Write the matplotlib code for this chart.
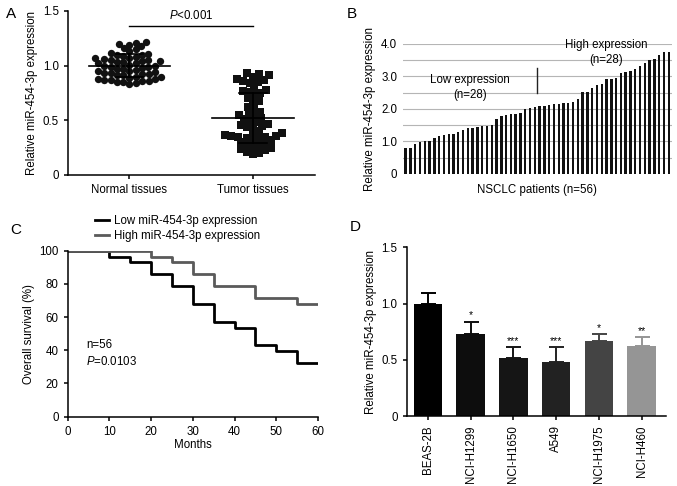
import numpy as np
import matplotlib.pyplot as plt

plt.rcParams['font.family'] = ['Liberation Sans', 'DejaVu Sans']
plt.rcParams['font.size'] = 8.3
plt.rcParams['mathtext.fontset'] = 'custom'
plt.rcParams['mathtext.rm'] = 'Liberation Sans'
plt.rcParams['mathtext.it'] = 'Liberation Sans:italic'
plt.rcParams['axes.linewidth'] = 1.1
plt.rcParams['xtick.major.width'] = 1.1
plt.rcParams['ytick.major.width'] = 1.1
plt.rcParams['xtick.major.size'] = 3
plt.rcParams['ytick.major.size'] = 3

# A: relative expression, tissue samples
groups = ['Normal tissues', 'Tumor tissues']
normal = [1.22, 1.21, 1.20, 1.19, 1.18, 1.16, 1.15, 1.13, 1.12, 1.11,
          1.10, 1.10, 1.09, 1.08, 1.07, 1.07, 1.06, 1.05, 1.05, 1.04,
          1.04, 1.03, 1.03, 1.02, 1.02, 1.01, 1.00, 1.00, 0.99, 0.99,
          0.98, 0.97, 0.97, 0.96, 0.95, 0.95, 0.94, 0.93, 0.93, 0.92,
          0.92, 0.91, 0.91, 0.90, 0.90, 0.89, 0.88, 0.88, 0.87, 0.87,
          0.86, 0.86, 0.85, 0.85, 0.84, 0.83]
tumor = [0.93, 0.92, 0.91, 0.90, 0.88, 0.87, 0.86, 0.85, 0.84, 0.80,
         0.78, 0.77, 0.76, 0.75, 0.72, 0.70, 0.68, 0.66, 0.62, 0.60,
         0.58, 0.56, 0.55, 0.54, 0.52, 0.51, 0.50, 0.48, 0.47, 0.46,
         0.45, 0.44, 0.43, 0.40, 0.38, 0.37, 0.37, 0.36, 0.36, 0.35,
         0.35, 0.34, 0.33, 0.32, 0.31, 0.30, 0.29, 0.28, 0.27, 0.25,
         0.25, 0.24, 0.23, 0.21, 0.20, 0.19]

# B: per-patient expression (sorted)
patients = [0.80, 0.80, 0.92, 0.99, 1.01, 1.03, 1.12, 1.18, 1.21, 1.22,
            1.24, 1.30, 1.35, 1.40, 1.43, 1.46, 1.47, 1.48, 1.50, 1.70,
            1.79, 1.82, 1.84, 1.84, 1.87, 2.00, 2.04, 2.06, 2.08, 2.10,
            2.13, 2.14, 2.16, 2.17, 2.18, 2.20, 2.30, 2.52, 2.52, 2.64,
            2.74, 2.78, 2.92, 2.93, 2.95, 3.12, 3.15, 3.18, 3.24, 3.32,
            3.42, 3.50, 3.54, 3.66, 3.74, 3.76]

# C: Kaplan-Meier survival
months_low = [0, 10, 15, 20, 25, 30, 35, 40, 45, 50, 55, 60]
surv_low = [100, 96.4, 92.9, 85.7, 78.6, 67.9, 57.1, 53.6, 42.9, 39.3, 32.1, 32.1]
months_high = [0, 20, 25, 30, 35, 45, 55, 60]
surv_high = [100, 96.4, 92.9, 85.7, 78.6, 71.4, 67.9, 67.9]

# D: cell lines
cells = ['BEAS-2B', 'NCI-H1299', 'NCI-H1650', 'A549', 'NCI-H1975', 'NCI-H460']
cell_expr = [1.00, 0.73, 0.52, 0.48, 0.67, 0.62]
cell_err = [0.09, 0.11, 0.09, 0.13, 0.06, 0.08]
stars = ['', '*', '***', '***', '*', '**']
cell_colors = ['#000000', '#0d0d0d', '#151515', '#222222', '#444444', '#959595']


def swarm(ax, vals, d=6.5):
    # simple beeswarm: offsets in pixels, returned in data units
    ypx = np.array([ax.transData.transform((0, v))[1] for v in vals])
    unit = ax.transData.transform((1, 0))[0] - ax.transData.transform((0, 0))[0]
    xs = np.zeros(len(vals))
    placed = []
    for i in np.argsort(vals):
        cands = [0.0]
        for j in placed:
            dy = ypx[i] - ypx[j]
            if abs(dy) < d:
                dx = np.sqrt(d * d - dy * dy)
                cands += [xs[j] + dx, xs[j] - dx]
        cands.sort(key=abs)
        for c in cands:
            if all((c - xs[j]) ** 2 + (ypx[i] - ypx[j]) ** 2 >= d * d - 1e-6 for j in placed):
                xs[i] = c
                break
        placed.append(i)
    return xs / unit


fig = plt.figure(figsize=(6.77, 4.86), dpi=100)

# ---- A ----
axA = fig.add_axes([0.100, 0.640, 0.365, 0.3374])
axA.set_xlim(-0.5, 1.5)
axA.set_ylim(0, 1.5)
for k, (vals, mk) in enumerate([(normal, 'o'), (tumor, 's')]):
    off = swarm(axA, vals)
    axA.scatter(k + off, vals, marker=mk, s=28, color='#111111', linewidths=0, zorder=2)
    m, sd = np.mean(vals), np.std(vals)
    axA.plot([k - 0.33, k + 0.33], [m, m], color='black', lw=1.2, zorder=3)
    axA.plot([k, k], [m - sd, m + sd], color='black', lw=1.2, zorder=3)
    for yy in (m - sd, m + sd):
        axA.plot([k - 0.11, k + 0.11], [yy, yy], color='black', lw=1.2, zorder=3)
axA.plot([0, 1], [1.366, 1.366], color='black', lw=1.0)
axA.text(0.5, 1.40, r'$\it{P}$<0.001', ha='center', va='bottom')
axA.set_xticks([0, 1], groups)
axA.set_yticks([0, 0.5, 1.0, 1.5], ['0', '0.5', '1.0', '1.5'])
axA.set_ylabel('Relative miR-454-3p expression', labelpad=3)
axA.spines[['top', 'right']].set_visible(False)

# ---- B ----
axB = fig.add_axes([0.595, 0.642, 0.397, 0.2675])
x = np.arange(len(patients))
axB.set_xlim(-0.6, len(patients) - 0.4)
axB.set_ylim(0, 4.0)
for g in np.arange(0.5, 4.01, 0.5):
    axB.axhline(g, color='#b5b5b5', lw=0.8, zorder=0)
axB.bar(x, patients, width=0.5, color='#111111', zorder=2)
axB.plot([27.5, 27.5], [2.48, 3.26], color='#222222', lw=1.0)
axB.text(13.5, 2.90, 'Low expression', ha='center', va='center')
axB.text(13.5, 2.44, '(n=28)', ha='center', va='center')
axB.text(42.0, 3.97, 'High expression', ha='center', va='center')
axB.text(42.0, 3.51, '(n=28)', ha='center', va='center')
axB.set_yticks(np.arange(0, 4.01, 0.5),
               ['0', '', '1.0', '', '2.0', '', '3.0', '', '4.0'])
axB.set_xticks([])
axB.tick_params(axis='y', length=0, pad=4)
for s in axB.spines.values():
    s.set_visible(False)
axB.set_ylabel('Relative miR-454-3p expression', labelpad=4)
axB.set_xlabel('NSCLC patients (n=56)', labelpad=7)

# ---- C ----
axC = fig.add_axes([0.100, 0.1426, 0.3697, 0.3416])
axC.step(months_low, surv_low, where='post', color='black', lw=2.0,
         label='Low miR-454-3p expression')
axC.step(months_high, surv_high, where='post', color='#5a5a5a', lw=2.0,
         label='High miR-454-3p expression')
axC.set_xlim(0, 60)
axC.set_ylim(0, 100)
axC.set_xticks(range(0, 61, 10))
axC.set_yticks(range(0, 101, 20))
axC.set_xlabel('Months', labelpad=1)
axC.set_ylabel('Overall survival (%)', labelpad=3)
axC.text(4.5, 43, 'n=56', ha='left', va='center')
axC.text(4.5, 33, r'$\it{P}$=0.0103', ha='left', va='center')
axC.spines[['top', 'right']].set_visible(False)
axC.legend(loc='upper left', bbox_to_anchor=(0.085, 1.25), frameon=False,
           handlelength=1.2, handletextpad=0.5, labelspacing=0.3, borderpad=0)

# ---- D ----
axD = fig.add_axes([0.6007, 0.144, 0.383, 0.347])
xd = np.arange(len(cells))
axD.bar(xd, cell_expr, width=0.67, color=cell_colors, zorder=2)
for i in xd:
    axD.errorbar(i, cell_expr[i], yerr=[[0], [cell_err[i]]], color=cell_colors[i],
                 lw=1.4, capsize=5.4, capthick=1.4, zorder=1)
    if stars[i]:
        axD.text(i, cell_expr[i] + cell_err[i] + 0.01, stars[i], ha='center',
                 va='bottom', fontsize=7.5)
axD.set_xlim(-0.5, 5.57)
axD.set_ylim(0, 1.5)
axD.set_xticks(xd, cells, rotation=90)
axD.set_yticks([0, 0.5, 1.0, 1.5], ['0', '0.5', '1.0', '1.5'])
axD.set_ylabel('Relative miR-454-3p expression', labelpad=3)
axD.spines[['top', 'right']].set_visible(False)

# panel letters
for lab, px, py in [('A', 6, 14), ('B', 347, 14), ('C', 10, 230), ('D', 350, 227)]:
    fig.text(px / 677, 1 - py / 486, lab, fontsize=11, ha='left', va='center')

fig.savefig('out.png', dpi=100)
